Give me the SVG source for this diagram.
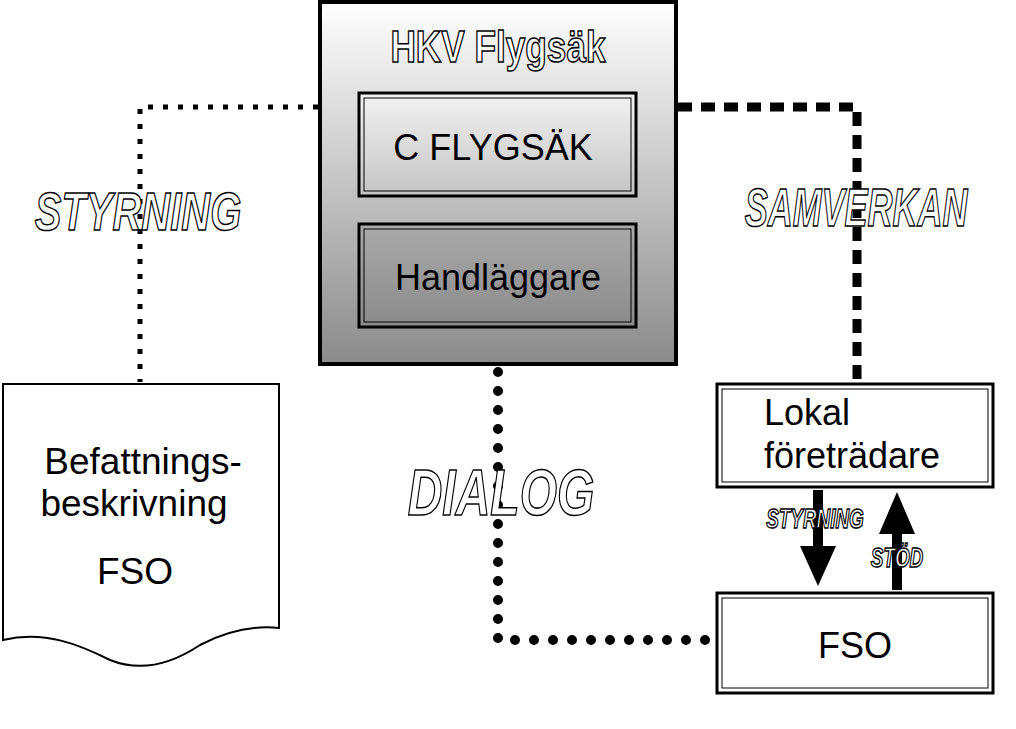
<svg xmlns="http://www.w3.org/2000/svg" width="1016" height="729" viewBox="0 0 1016 729">
<defs>
<linearGradient id="gMain" x1="0" y1="0" x2="0" y2="1"><stop offset="0" stop-color="#ffffff"/><stop offset="1" stop-color="#8a8a8a"/></linearGradient>
<linearGradient id="gIn1" x1="0" y1="0" x2="0" y2="1"><stop offset="0" stop-color="#f2f2f2"/><stop offset="1" stop-color="#c4c4c4"/></linearGradient>
<linearGradient id="gIn2" x1="0" y1="0" x2="0" y2="1"><stop offset="0" stop-color="#aaaaaa"/><stop offset="1" stop-color="#8a8a8a"/></linearGradient>
</defs>
<style>
.t{font-family:"Liberation Sans",Arial,sans-serif;fill:#000}
.o{font-family:"Liberation Sans",Arial,sans-serif;font-weight:bold;font-style:italic;fill:#fff;stroke:#000;stroke-width:1.5}
.n{font-style:normal}
.box{fill:#fff;stroke:#000;stroke-width:3}
.dot{fill:none;stroke:#000;stroke-width:5;stroke-dasharray:5 10}
</style>
<rect width="1016" height="729" fill="#fff"/>
<g id="connectors">
<path class="dot" d="M318,107 H140 V382"/>
<path d="M678,107 H857 V385" fill="none" stroke="#000" stroke-width="9" stroke-dasharray="14 9"/>
<path d="M498,372 V640 H706" fill="none" stroke="#000" stroke-width="10" stroke-linecap="round" stroke-dasharray="0 19"/>
<path d="M813,490 h10 v56 h13 l-18,40 l-18,-40 h13z" fill="#000"/>
<path d="M892,590 v-56 h-13 l18,-42 l18,42 h-13 v56z" fill="#000"/>
</g>
<g id="hkv">
<rect x="320" y="2" width="356" height="362" fill="url(#gMain)" stroke="#000" stroke-width="4"/>
<text class="o n" x="498" y="62" font-size="44" text-anchor="middle" transform="translate(498 0) scale(0.8 1) translate(-498 0)">HKV Flygsäk</text>
</g>
<g id="cflygsak">
<rect x="359" y="93" width="277" height="103" fill="url(#gIn1)" stroke="#000" stroke-width="3"/>
<rect x="364" y="98" width="267" height="93" fill="none" stroke="#000" stroke-width="1"/>
<text class="t" x="493" y="160" font-size="36" text-anchor="middle">C FLYGSÄK</text>
</g>
<g id="handlaggare">
<rect x="359" y="224" width="277" height="103" fill="url(#gIn2)" stroke="#000" stroke-width="3"/>
<rect x="364" y="229" width="267" height="93" fill="none" stroke="#000" stroke-width="1"/>
<text class="t" x="498" y="290" font-size="36" text-anchor="middle">Handläggare</text>
</g>
<g id="befattning">
<path d="M3,384 H279 V628 C250,625 225,632 200,645 C170,665 140,672 110,660 C80,645 45,630 3,640 Z" fill="#fff" stroke="#000" stroke-width="2"/>
<text class="t" x="143" y="474" font-size="37" text-anchor="middle">Befattnings-</text>
<text class="t" x="134" y="516" font-size="37" text-anchor="middle">beskrivning</text>
<text class="t" x="135" y="584" font-size="37" text-anchor="middle">FSO</text>
</g>
<g id="lokal">
<rect class="box" x="717" y="384" width="276" height="103"/>
<rect x="722" y="389" width="266" height="93" fill="none" stroke="#000" stroke-width="1"/>
<text class="t" x="764" y="425" font-size="36">Lokal</text>
<text class="t" x="764" y="468" font-size="36">företrädare</text>
</g>
<g id="fso">
<rect class="box" x="717" y="593" width="276" height="100"/>
<rect x="722" y="598" width="266" height="90" fill="none" stroke="#000" stroke-width="1"/>
<text class="t" x="855" y="658" font-size="36" text-anchor="middle">FSO</text>
</g>
<g id="labels">
<text class="o" x="138" y="230" font-size="54" text-anchor="middle" transform="translate(138 0) scale(0.74 1) translate(-138 0)">STYRNING</text>
<text class="o" x="856" y="226" font-size="54" text-anchor="middle" transform="translate(856 0) scale(0.64 1) translate(-856 0)">SAMVERKAN</text>
<text class="o" x="501" y="515" font-size="64" text-anchor="middle" transform="translate(501 0) scale(0.75 1) translate(-501 0)">DIALOG</text>
<text class="o" x="815" y="528" font-size="27" text-anchor="middle" stroke-width="1" transform="translate(815 0) scale(0.7 1) translate(-815 0)">STYRNING</text>
<text class="o" x="897" y="567" font-size="27" text-anchor="middle" stroke-width="1" transform="translate(897 0) scale(0.7 1) translate(-897 0)">STÖD</text>
</g>
</svg>
